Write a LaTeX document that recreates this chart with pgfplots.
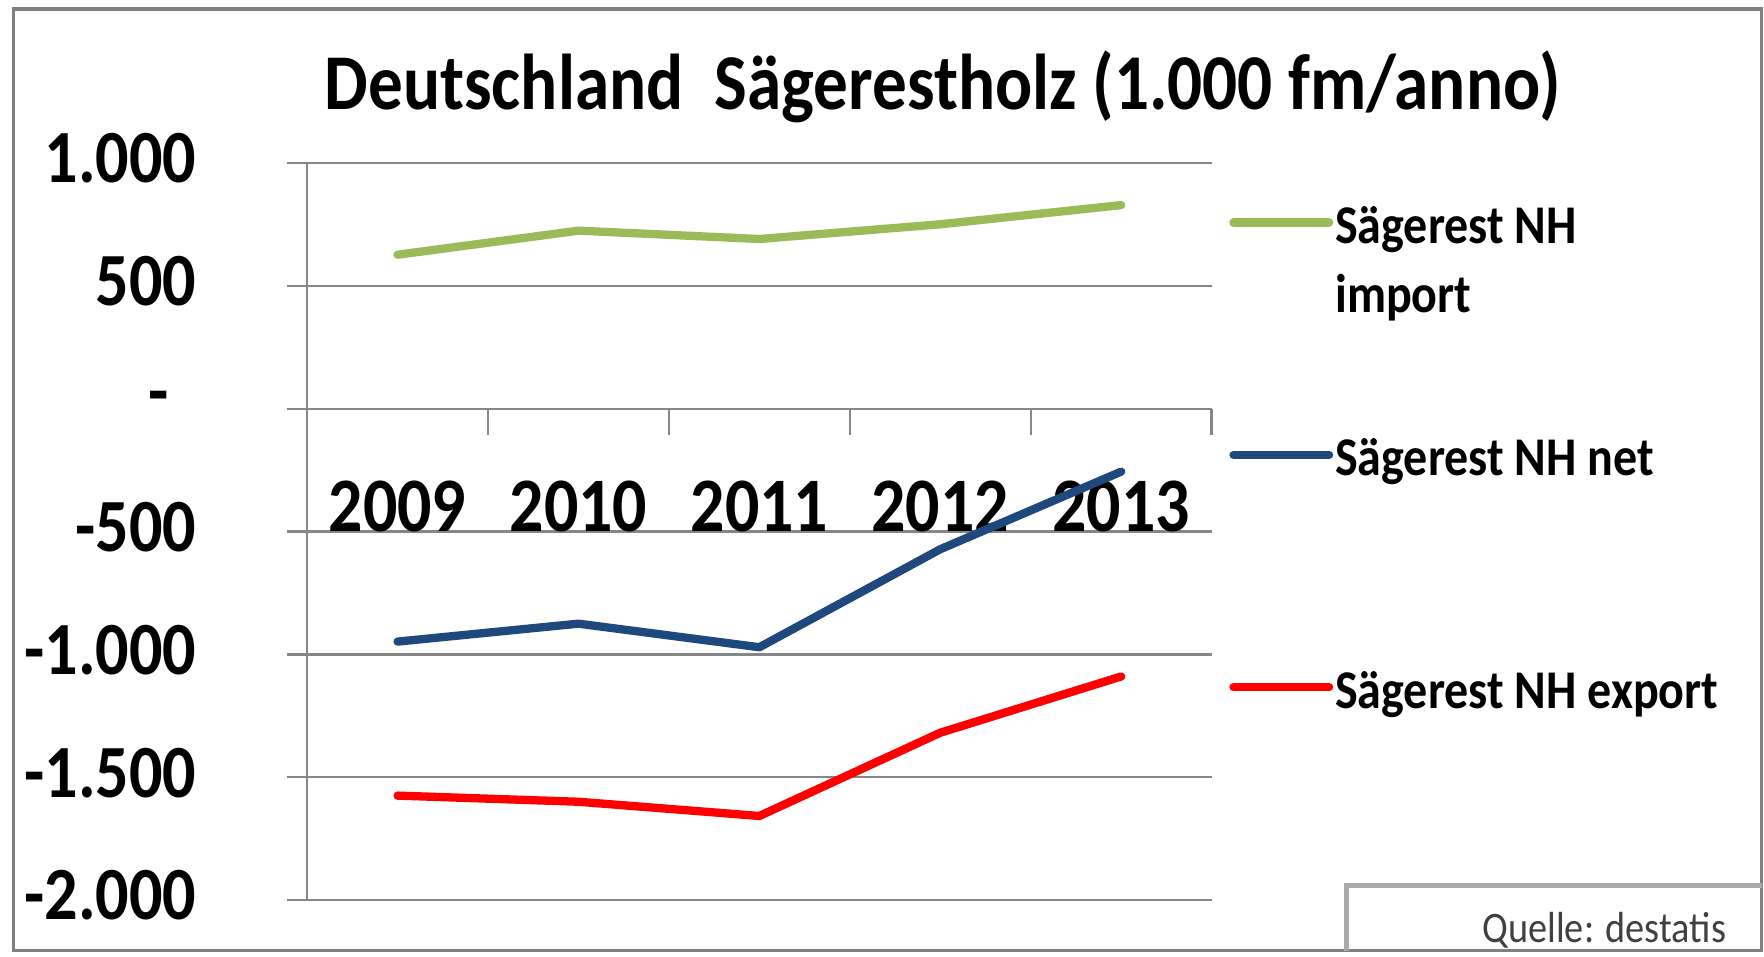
\documentclass[border=0pt]{standalone}
\usepackage{pgfplots}
\pgfplotsset{compat=1.18}
\usepackage{fontspec}
\setmainfont{Carlito}[FakeStretch=0.88]
\definecolor{impgreen}{RGB}{155,187,89}
\definecolor{netblue}{RGB}{31,73,125}
\definecolor{expred}{RGB}{255,0,0}
\definecolor{gridgray}{RGB}{134,134,134}
\definecolor{framegray}{RGB}{128,128,128}
\definecolor{srcgray}{RGB}{64,64,64}
\newcommand{\lent}[2]{\begin{tabular}[t]{@{}l@{}}#1\\#2\end{tabular}}

\begin{document}
\begin{tikzpicture}[x=1cm,y=1cm]
\useasboundingbox (0,0) rectangle (15.68,-8.5);
\draw[framegray, line width=0.03cm] (0.12,-8.45) -- (0.12,-0.08) -- (15.66,-0.08) -- (15.66,-8.45) -- cycle;
\node[anchor=base, inner sep=0pt, font=\bfseries\fontsize{20}{24}\selectfont]
  at (8.38,-0.97) {\addfontfeature{FakeStretch=0.875}Deutschland\ \ Sägerestholz (1.000 fm/anno)};
\begin{axis}[
  at={(2.73cm,-8.00cm)}, anchor=south west,
  width=8.04cm, height=6.55cm, scale only axis,
  xmin=0.5, xmax=5.5, ymin=-2000, ymax=1000,
  axis y line*=left, axis x line*=middle,
  hide obscured x ticks=false, hide obscured y ticks=false,
  axis line style={gridgray, line width=0.6pt, -},
  xtick={1,2,3,4,5},
  xticklabels={2009,2010,2011,2012,2013},
  major x tick style={draw=none},
  minor xtick={0.5,1.5,2.5,3.5,4.5,5.5},
  minor x tick style={draw=gridgray, line width=0.6pt},
  minor tick length=0.23cm,
  xticklabel style={font=\bfseries\fontsize{19.5}{21}\selectfont, anchor=base, yshift=-0.91cm},
  ytick={-2000,-1500,-1000,-500,0,500,1000},
  yticklabels={-2.000,-1.500,-1.000,-500,{-\rule{0.25cm}{0pt}},500,1.000},
  yticklabel style={font=\bfseries\fontsize{19}{21}\selectfont, anchor=east, xshift=-0.68cm, yshift=0.04cm},
  tick align=outside, major tick length=0.18cm,
  tick style={gridgray, line width=0.6pt},
  ymajorgrids, grid style={gridgray, line width=0.6pt},
  legend style={at={(axis description cs:1.0187,0.96)}, anchor=north west,
    draw=none, fill=none, inner sep=0pt, row sep=1.55cm,
    font=\bfseries\fontsize{13.8}{17.4}\selectfont,
    nodes={inner sep=0.5pt}},
  legend cell align=left,
  legend image code/.code={\draw[#1] (0cm,0cm) -- (0.85cm,0cm);},
  every axis plot/.append style={line width=2.1pt, line join=round, line cap=round},
]
\addplot[impgreen] coordinates {(1,627) (2,725) (3,691) (4,751) (5,829)};
\addlegendentry{\lent{Sägerest NH}{import}}
\addplot[netblue] coordinates {(1,-948) (2,-875) (3,-971) (4,-572) (5,-256)};
\addlegendentry{\lent{Sägerest NH net}{}}
\addplot[expred] coordinates {(1,-1575) (2,-1600) (3,-1658) (4,-1319) (5,-1090)};
\addlegendentry{\lent{Sägerest NH export}{}}
\end{axis}
\draw[gridgray!70, line width=0.04cm] (11.97,-8.45) -- (11.97,-7.87) -- (15.66,-7.87);
\node[anchor=base east, inner sep=0pt, text=srcgray, font=\fontsize{11}{13}\selectfont]
  at (15.35,-8.38) {Quelle: destatis};
\end{tikzpicture}
\end{document}
